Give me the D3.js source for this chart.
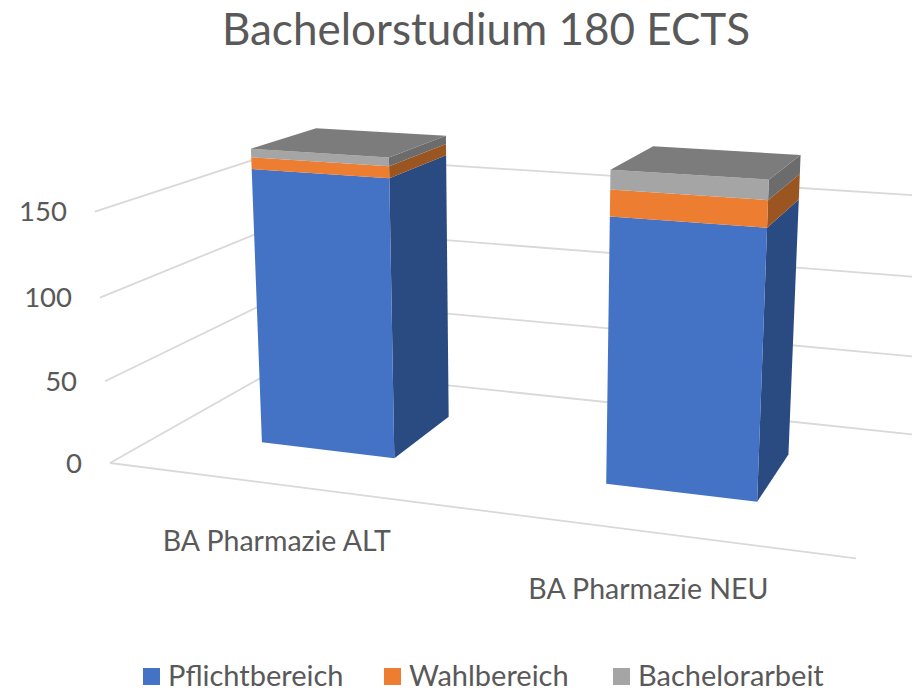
<!DOCTYPE html>
<html>
<head>
<meta charset="utf-8">
<script src="https://cdn.jsdelivr.net/npm/d3@7"></script>
<style>
    body { margin: 0; background: #fff; }
    text { font-family: Lato, "Open Sans", sans-serif; fill: #595959; }
</style>
</head>
<body>
<div id="chart"></div>
<script>
var categories = ["BA Pharmazie ALT", "BA Pharmazie NEU"];
var pflichtbereich = [168, 155];
var wahlbereich = [7, 15];
var bachelorarbeit = [5, 11];
var seriesNames = ["Pflichtbereich", "Wahlbereich", "Bachelorarbeit"];
var yTicks = [0, 50, 100, 150];

var width = 912, height = 691;

var frontColors = ["#4472c4", "#ed7d31", "#a5a5a5"];
var sideColors = ["#2a4a82", "#9b5520", "#6c6c6c"];
var topColor = "#7c7c7c";
var gridColor = "#d9d9d9";

var rows = categories.map(function (c, i) {
    return { category: c, Pflichtbereich: pflichtbereich[i], Wahlbereich: wahlbereich[i], Bachelorarbeit: bachelorarbeit[i] };
});
var stacked = d3.stack().keys(seriesNames)(rows);

// scales go to the unit box of the 3d chart, project() turns that into pixels
var x = d3.scaleBand().domain(categories).range([0, 1]).paddingInner(0.6).paddingOuter(0.3);
var y = d3.scaleLinear().domain([0, 150]).range([0, 1]);
var z = d3.scaleLinear().domain([0, 1]).range([0.3, 0.7]);

// vanishing points of the three box directions
var vpX = [-4900, -178], vpY = [515, 7180], vpZ = [1186, -145];
var origin = [110, 463];
var wX = -0.1296, wY = -0.03606, wZ = 0.1861;

function project(px, py, pz) {
    var w = 1 + wX * px + wY * py + wZ * pz;
    return [
        (origin[0] + wX * px * vpX[0] + wY * py * vpY[0] + wZ * pz * vpZ[0]) / w,
        (origin[1] + wX * px * vpX[1] + wY * py * vpY[1] + wZ * pz * vpZ[1]) / w
    ];
}

var svg = d3.select("#chart").append("svg")
    .attr("width", width)
    .attr("height", height)
    .style("display", "block");

var line = d3.line();
var poly = d3.line().curve(d3.curveLinearClosed);

// title
svg.append("text")
    .attr("x", 486)
    .attr("y", 45)
    .attr("text-anchor", "middle")
    .style("font-size", "44px")
    .text("Bachelorstudium 180 ECTS");

// gridlines on side wall and back wall
var grid = svg.append("g").attr("fill", "none").attr("stroke", gridColor).attr("stroke-width", 1.8);
yTicks.forEach(function (t) {
    var v = y(t);
    grid.append("path").attr("d", line([project(0, v, 0), project(0, v, 1), project(1, v, 1)]));
});
grid.append("path").attr("d", line([project(0, 0, 0), project(1, 0, 0)]));

// y labels
svg.selectAll(".ytick")
    .data(yTicks)
    .enter()
    .append("text")
    .attr("class", "ytick")
    .attr("x", function (d) { return project(0, y(d), 0)[0] - 28; })
    .attr("y", function (d) { return project(0, y(d), 0)[1]; })
    .attr("dy", "0.35em")
    .attr("text-anchor", "end")
    .style("font-size", "27.5px")
    .text(function (d) { return d; });

// bars
var bars = svg.append("g");
categories.forEach(function (c, i) {
    var x0 = x(c), x1 = x(c) + x.bandwidth();
    var g = bars.append("g");
    stacked.forEach(function (s, k) {
        var v0 = y(s[i][0]), v1 = y(s[i][1]);
        g.append("path")
            .attr("fill", sideColors[k])
            .attr("d", poly([project(x1, v0, z(0)), project(x1, v0, z(1)), project(x1, v1, z(1)), project(x1, v1, z(0))]));
        g.append("path")
            .attr("fill", frontColors[k])
            .attr("d", poly([project(x0, v0, z(0)), project(x1, v0, z(0)), project(x1, v1, z(0)), project(x0, v1, z(0))]));
    });
    var top = y(stacked[stacked.length - 1][i][1]);
    g.append("path")
        .attr("fill", topColor)
        .attr("d", poly([project(x0, top, z(0)), project(x1, top, z(0)), project(x1, top, z(1)), project(x0, top, z(1))]));
});

// category labels
svg.selectAll(".cat")
    .data(categories)
    .enter()
    .append("text")
    .attr("class", "cat")
    .attr("x", function (d) { return project(x(d) + x.bandwidth() / 2, 0, 0)[0] - 1; })
    .attr("y", function (d) { return project(x(d) + x.bandwidth() / 2, 0, 0)[1] + 66.5; })
    .attr("text-anchor", "middle")
    .style("font-size", "28.5px")
    .text(function (d) { return d; });

// legend
var legendX = [143, 384, 613];
var legend = svg.selectAll(".legend")
    .data(seriesNames)
    .enter()
    .append("g")
    .attr("class", "legend")
    .attr("transform", function (d, i) { return "translate(" + legendX[i] + ",668)"; });
legend.append("rect")
    .attr("width", 17)
    .attr("height", 17)
    .attr("fill", function (d, i) { return frontColors[i]; });
legend.append("text")
    .attr("x", 25)
    .attr("y", 18)
    .style("font-size", "29px")
    .text(function (d) { return d; });
</script>
</body>
</html>
